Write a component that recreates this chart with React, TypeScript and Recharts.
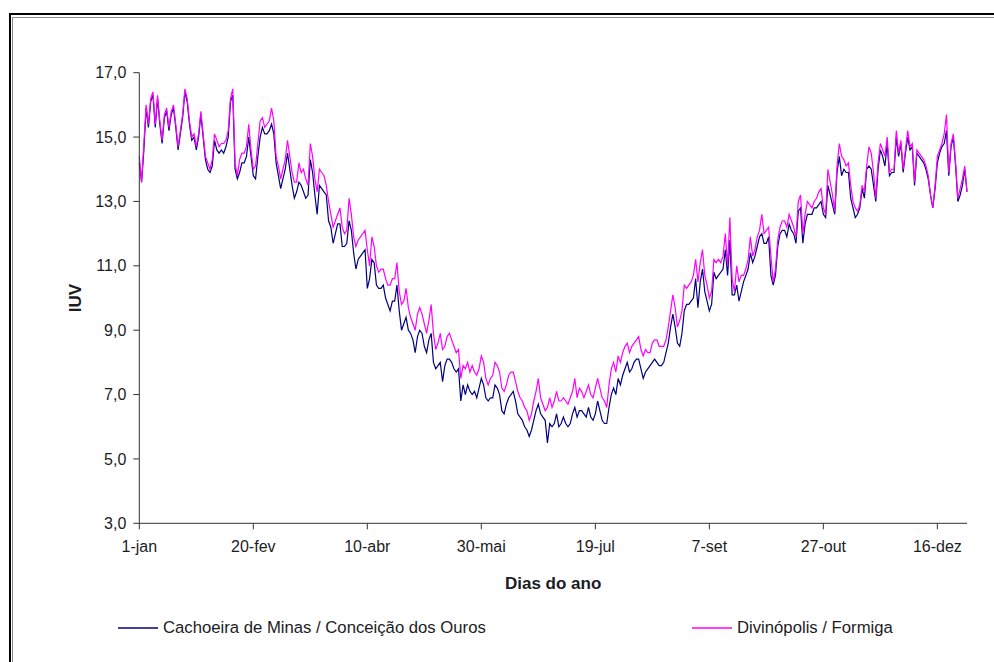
import React from 'react';
import { LineChart, Line, XAxis, YAxis, Legend, Label } from 'recharts';

const seriesNames = ['Cachoeira de Minas / Conceição dos Ouros', 'Divinópolis / Formiga'];
const xTickDays = [0, 50, 100, 150, 200, 250, 300, 350];
const xTickLabels = ['1-jan', '20-fev', '10-abr', '30-mai', '19-jul', '7-set', '27-out', '16-dez'];
const yTicks = [3, 5, 7, 9, 11, 13, 15, 17];

// daily IUV, Cachoeira de Minas / Conceição dos Ouros (navy)
const iuvCachoeira = [
  14.2, 13.6, 14.6, 15.9, 15.3, 16.1, 16.3, 15.3, 16.2, 15.4,
  14.8, 15.6, 15.8, 15.2, 15.7, 15.9, 15.3, 14.6, 15.1, 15.6,
  16.4, 16.1, 15.4, 14.9, 15.0, 14.6, 15.0, 15.7, 15.0, 14.3,
  14.0, 13.9, 14.1, 14.9, 14.6, 14.5, 14.6, 14.5, 14.7, 15.0,
  16.1, 16.3, 14.0, 13.7, 13.9, 14.2, 14.2, 14.4, 15.0, 14.4,
  13.8, 13.7, 14.4, 15.0, 15.3, 15.1, 15.1, 15.2, 15.4, 15.1,
  14.2, 13.8, 13.4, 13.7, 14.0, 14.5, 14.0, 13.5, 13.1, 13.3,
  13.6, 13.5, 13.3, 13.1, 13.2, 14.3, 13.9, 13.2, 12.6, 13.5,
  13.4, 13.3, 13.2, 12.4, 12.2, 11.7, 12.0, 12.3, 12.3, 11.6,
  11.6, 11.7, 12.4, 12.1, 11.4, 10.9, 11.2, 11.3, 11.4, 11.5,
  10.3, 10.6, 11.2, 11.1, 10.4, 10.3, 10.3, 10.4, 10.0, 9.8,
  9.6, 9.9, 9.9, 10.4, 9.6, 9.0, 9.2, 9.4, 9.0, 8.9,
  8.7, 8.3, 8.8, 9.0, 8.9, 8.5, 8.3, 8.7, 8.9, 8.0,
  7.8, 7.9, 8.0, 7.4, 7.9, 8.1, 8.1, 8.0, 7.8, 7.7,
  7.8, 6.8, 7.3, 7.0, 7.3, 7.1, 7.0, 7.1, 6.9, 7.2,
  7.5, 7.3, 6.9, 6.8, 6.9, 6.9, 7.3, 7.2, 7.0, 6.5,
  6.4, 6.7, 6.9, 7.0, 7.1, 6.8, 6.4, 6.3, 6.2, 6.0,
  5.9, 5.7, 5.9, 6.2, 6.5, 6.7, 6.4, 6.3, 6.2, 5.5,
  6.1, 6.0, 6.1, 6.4, 6.0, 6.1, 6.3, 6.1, 6.0, 6.1,
  6.4, 6.6, 6.3, 6.5, 6.5, 6.4, 6.3, 6.6, 6.3, 6.2,
  6.4, 6.8, 6.5, 6.2, 6.1, 6.1, 6.6, 7.0, 7.2, 7.0,
  7.5, 7.3, 7.6, 7.8, 8.0, 7.7, 7.8, 8.0, 8.1, 8.1,
  7.8, 7.5, 7.7, 7.8, 7.9, 8.0, 8.1, 8.0, 7.9, 7.9,
  8.0, 8.3, 8.6, 9.1, 9.5, 9.1, 8.6, 8.5, 8.9, 9.6,
  9.8, 9.8, 9.9, 10.0, 10.6, 9.7, 10.5, 10.9, 10.2, 9.9,
  9.6, 9.8, 10.8, 10.6, 10.7, 10.8, 10.9, 11.5, 10.7, 11.8,
  10.1, 10.1, 10.4, 9.9, 10.2, 10.5, 10.7, 10.9, 11.4, 11.1,
  11.3, 11.6, 11.9, 12.0, 11.7, 11.7, 11.9, 10.7, 10.4, 10.7,
  11.6, 12.0, 12.1, 12.1, 11.9, 12.3, 12.1, 12.0, 11.7, 12.7,
  12.8, 11.7, 12.3, 12.6, 12.6, 12.6, 12.8, 12.8, 12.9, 13.0,
  12.6, 12.5, 13.5, 13.2, 12.9, 12.6, 13.9, 14.4, 13.8, 14.0,
  13.9, 13.9, 13.1, 12.8, 12.5, 12.6, 12.8, 13.4, 13.1, 14.0,
  14.1, 14.0, 13.5, 13.0, 14.0, 14.6, 14.4, 14.1, 14.8, 13.8,
  13.9, 13.9, 15.0, 14.4, 14.8, 13.9, 14.5, 15.0, 14.6, 14.7,
  13.5, 14.5, 14.4, 14.3, 14.2, 14.0, 13.7, 13.2, 12.8, 13.4,
  14.2, 14.5, 14.7, 14.8, 15.2, 13.8, 14.7, 15.0, 14.1, 13.0,
  13.2, 13.5, 14.0, 13.3,
];

// daily IUV, Divinópolis / Formiga (magenta)
const iuvDivinopolis = [
  14.4, 13.6, 14.8, 16.0, 15.4, 16.2, 16.4, 15.4, 16.3, 15.5,
  14.9, 15.7, 15.9, 15.3, 15.8, 16.0, 15.4, 14.7, 15.2, 15.7,
  16.5, 16.2, 15.5, 15.0, 15.1, 14.7, 15.1, 15.8, 15.1, 14.4,
  14.2, 14.0, 14.3, 15.1, 14.9, 14.7, 14.8, 14.8, 14.9, 15.2,
  16.2, 16.5, 14.2, 13.8, 14.3, 14.5, 14.5, 14.7, 15.4, 14.6,
  14.0, 14.1, 14.8, 15.5, 15.6, 15.3, 15.4, 15.5, 15.9, 15.5,
  14.4, 14.1, 13.7, 14.0, 14.3, 14.9, 14.4, 13.9, 13.6, 13.6,
  14.2, 13.9, 14.0, 13.7, 13.5, 14.8, 14.4, 13.7, 13.3, 14.0,
  13.9, 13.8, 13.5, 13.0, 12.6, 12.2, 12.4, 12.6, 12.8, 12.2,
  12.0, 12.1, 13.1, 12.6, 11.9, 11.6, 11.8, 11.9, 12.0, 12.1,
  11.5, 11.0, 11.9, 11.6, 11.0, 10.8, 10.9, 10.9, 10.6, 10.4,
  10.4, 10.6, 10.6, 11.1, 10.2, 9.8, 9.9, 10.3, 9.7, 9.4,
  9.2, 9.0, 9.5, 9.7, 9.5, 9.2, 8.9, 9.3, 9.8, 8.9,
  8.4, 8.6, 8.9, 8.4, 8.5, 8.8, 8.9, 8.7, 8.5, 8.3,
  8.4, 7.5, 7.9, 7.8, 8.0, 7.7, 7.9, 7.7, 7.6, 7.8,
  8.2, 8.0, 7.5, 7.3, 7.5, 7.6, 8.0, 7.9, 7.7, 7.2,
  7.1, 7.3, 7.6, 7.7, 7.7, 7.4, 7.1, 6.9, 6.8, 6.6,
  6.5, 6.2, 6.4, 6.8, 7.1, 7.5, 6.9, 6.7, 6.5, 6.6,
  6.9, 6.6, 6.8, 7.1, 6.8, 6.8, 6.9, 6.8, 6.7, 6.9,
  7.1, 7.5, 6.9, 7.2, 7.1, 6.9, 7.1, 7.3, 7.0, 6.9,
  7.2, 7.5, 7.2, 6.9, 6.8, 6.6, 7.3, 7.8, 8.0, 7.7,
  8.2, 8.0, 8.3, 8.5, 8.6, 8.3, 8.5, 8.6, 8.7, 8.8,
  8.4, 8.2, 8.4, 8.3, 8.3, 8.6, 8.7, 8.7, 8.5, 8.5,
  8.5, 8.7, 9.1, 9.6, 10.1, 9.7, 9.1, 9.3, 9.6, 10.4,
  10.3, 10.4, 10.5, 10.7, 11.2, 10.5, 11.1, 11.5, 10.7, 10.4,
  10.0, 10.2, 11.2, 11.1, 11.2, 11.1, 11.3, 12.0, 11.0, 12.5,
  10.6, 10.2, 11.0, 10.5, 10.7, 10.7, 10.9, 11.2, 11.9, 11.3,
  11.5, 11.9, 12.1, 12.6, 12.0, 12.1, 12.2, 11.3, 10.5, 10.9,
  11.8, 12.2, 12.4, 12.4, 12.2, 12.6, 12.4, 12.2, 11.9, 13.0,
  13.2, 12.0, 12.6, 13.0, 12.9, 12.8, 13.0, 13.1, 13.3, 13.4,
  12.8, 12.6, 14.0, 13.6, 13.2, 12.7, 14.1, 14.8, 14.4, 14.3,
  14.1, 14.2, 13.5, 13.0, 12.8, 12.7, 12.9, 13.5, 13.3, 14.1,
  14.7, 14.5, 13.9, 13.1, 14.2, 14.8, 14.6, 14.4, 15.0, 13.9,
  14.0, 14.0, 15.2, 14.5, 14.9, 14.0, 14.6, 15.2, 14.7, 14.8,
  13.6, 14.6, 14.5, 14.4, 14.3, 14.1, 13.8, 13.2, 12.8, 13.5,
  14.4, 14.6, 14.8, 15.1, 15.7, 13.9, 14.8, 15.1, 14.2, 13.1,
  13.4, 13.7, 14.1, 13.3,
];

const chartData = iuvCachoeira.map((v, i) => ({
  day: i,
  cachoeira: v,
  divinopolis: iuvDivinopolis[i],
}));

const FONT = '"Liberation Sans", Arial, sans-serif';
const TEXT = '#1c1c24';
const AXIS = '#333333';

const legendPositions = [118, 692];

const renderLegend = (props: any) => {
  const { payload } = props;
  return (
    <div style={{ position: 'relative', width: 994, height: 24, fontFamily: FONT, fontSize: 16.7, color: TEXT }}>
      {(payload || []).map((entry: any, i: number) => (
        <div
          key={entry.value}
          style={{
            position: 'absolute',
            left: legendPositions[i],
            top: 0,
            height: 24,
            display: 'flex',
            alignItems: 'center',
            whiteSpace: 'nowrap',
          }}
        >
          <svg width={40} height={4} style={{ display: 'block', marginRight: 5 }}>
            <line x1={0} y1={2} x2={40} y2={2} stroke={entry.color} strokeWidth={1.3} />
          </svg>
          <span>{entry.value}</span>
        </div>
      ))}
    </div>
  );
};

export default function App() {
  return (
    <div style={{ position: 'absolute', left: 0, top: 0, width: 994, height: 662, background: '#fff', overflow: 'hidden' }}>
      <div style={{ position: 'absolute', left: 9, top: 13, width: 1100, height: 1100, borderLeft: '2px solid #000', borderTop: '2px solid #000' }} />
      <div style={{ position: 'absolute', left: 12, top: 17, width: 1100, height: 1100, borderLeft: '1px solid #8a8a8a', borderTop: '1px solid #8a8a8a' }} />
      <div style={{ position: 'absolute', left: 0, top: 0 }}>
        <LineChart
          width={994}
          height={662}
          data={chartData}
          margin={{ top: 72.7, right: 27, bottom: 98.7, left: 69.3 }}
          style={{ fontFamily: FONT }}
        >
          <XAxis
            dataKey="day"
            type="number"
            domain={[0, 363]}
            ticks={xTickDays}
            interval={0}
            tickFormatter={(v: number) => xTickLabels[xTickDays.indexOf(v)]}
            height={40}
            tickSize={6}
            tickMargin={11}
            stroke={AXIS}
            tick={{ fill: TEXT, fontSize: 16, fontFamily: FONT }}
          >
            <Label
              value="Dias do ano"
              position="bottom"
              offset={14}
              style={{ fontWeight: 'bold', fontSize: 17, fill: TEXT, fontFamily: FONT }}
            />
          </XAxis>
          <YAxis
            type="number"
            domain={[3, 17]}
            ticks={yTicks}
            interval={0}
            width={70}
            tickSize={6}
            tickMargin={7}
            stroke={AXIS}
            tickFormatter={(v: number) => v.toFixed(1).replace('.', ',')}
            tick={{ fill: TEXT, fontSize: 16, fontFamily: FONT }}
          >
            <Label
              value="IUV"
              angle={-90}
              position="insideLeft"
              offset={6}
              style={{ textAnchor: 'middle', fontWeight: 'bold', fontSize: 17, fill: TEXT, fontFamily: FONT }}
            />
          </YAxis>
          <Legend
            layout="horizontal"
            verticalAlign="middle"
            align="center"
            content={renderLegend}
            wrapperStyle={{ position: 'absolute', left: 0, top: 616, width: 994, height: 24 }}
          />
          <Line
            type="linear"
            dataKey="cachoeira"
            name={seriesNames[0]}
            stroke="#000080"
            strokeWidth={1.2}
            dot={false}
            isAnimationActive={false}
          />
          <Line
            type="linear"
            dataKey="divinopolis"
            name={seriesNames[1]}
            stroke="#FF00FF"
            strokeWidth={1.2}
            dot={false}
            isAnimationActive={false}
          />
        </LineChart>
      </div>
    </div>
  );
}
